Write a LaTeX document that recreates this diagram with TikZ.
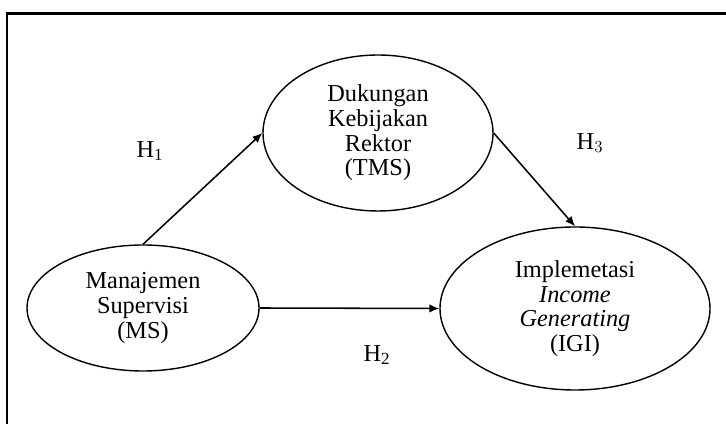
\documentclass[tikz,border=0pt]{standalone}
\usepackage{fontspec}
\setmainfont{Liberation Serif}
\usetikzlibrary{arrows.meta, positioning, shapes.geometric}

\begin{document}
\begin{tikzpicture}[every node/.style={font=\fontsize{17.3pt}{17.5pt}\selectfont},
    konstruk/.style={draw, ellipse, line width=1pt, align=center, inner sep=0pt},
    jalur/.style={-{Latex[length=7pt,width=6pt]}, line width=1.1pt}]
  \useasboundingbox (0,0) rectangle (18.15,10.6);
  % bingkai
  \draw[line width=2.1pt] (0.175,-0.3) |- (18.5,10.2625);

  \node[konstruk, minimum width=5.75cm, minimum height=3.9cm] (tms) at (9.45,7.275)
    {Dukungan\\ Kebijakan\\ Rektor\\ (TMS)};
  \node[konstruk, minimum width=5.8cm, minimum height=3.15cm] (ms) at (3.575,2.9)
    {Manajemen\\ Supervisi\\ (MS)};
  \node[konstruk, minimum width=6.75cm, minimum height=4.075cm] (igi) at (14.375,2.8875)
    {Implemetasi\\ \textit{Income}\\ \textit{Generating}\\ (IGI)};

  \node (h1) at (3.75,6.825) {H\textsubscript{1}};
  \node (h3) at (14.75,7.025) {H$_3$};
  \node (h2) at (9.425,1.725) {H\textsubscript{2}};

  \draw[jalur] (ms.north) -- (tms.west);
  \draw[jalur] (tms.east) -- (igi.north);
  \draw[jalur] (ms.east) -- (igi.west);
\end{tikzpicture}
\end{document}
